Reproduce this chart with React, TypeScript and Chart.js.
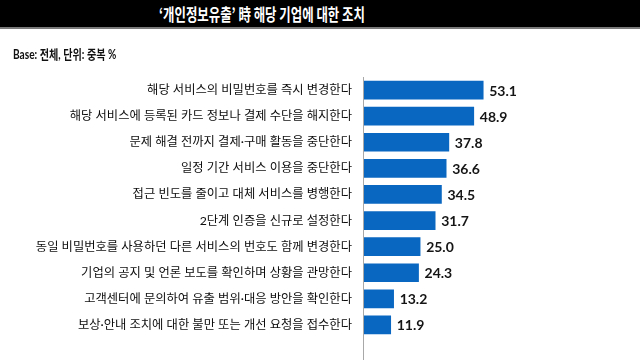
import React, { useEffect, useRef } from "react";
import { Chart, registerables } from "chart.js";

Chart.register(...registerables);

const TITLE = "‘개인정보유출’ 時 해당 기업에 대한 조치";
const BASE_NOTE = "Base: 전체, 단위: 중복 %";

const categories: string[] = [
  "해당 서비스의 비밀번호를 즉시 변경한다",
  "해당 서비스에 등록된 카드 정보나 결제 수단을 해지한다",
  "문제 해결 전까지 결제·구매 활동을 중단한다",
  "일정 기간 서비스 이용을 중단한다",
  "접근 빈도를 줄이고 대체 서비스를 병행한다",
  "2단계 인증을 신규로 설정한다",
  "동일 비밀번호를 사용하던 다른 서비스의 번호도 함께 변경한다",
  "기업의 공지 및 언론 보도를 확인하며 상황을 관망한다",
  "고객센터에 문의하여 유출 범위·대응 방안을 확인한다",
  "보상·안내 조치에 대한 불만 또는 개선 요청을 접수한다",
];

const values: number[] = [53.1, 48.9, 37.8, 36.6, 34.5, 31.7, 25.0, 24.3, 13.2, 11.9];

const BAR_COLOR = "#0a67c1";

const overlayPlugin = {
  id: "overlay",
  afterDraw(chart: any) {
    const ctx = chart.ctx;
    const { chartArea } = chart;
    ctx.save();
    ctx.strokeStyle = "#a8a8a8";
    ctx.lineWidth = 1;
    ctx.beginPath();
    const x = Math.round(chartArea.left) - 0.5;
    ctx.moveTo(x, chartArea.top);
    ctx.lineTo(x, chart.height);
    ctx.stroke();

    const meta = chart.getDatasetMeta(0);
    ctx.fillStyle = "#151515";
    ctx.font = "bold 14px Lato";
    ctx.textAlign = "left";
    ctx.textBaseline = "middle";
    meta.data.forEach((bar: any, i: number) => {
      const v = chart.data.datasets[0].data[i] as number;
      ctx.fillText(v.toFixed(1), bar.x + 6, bar.y + 1);
    });
    ctx.restore();
  },
};

export default function App() {
  const ref = useRef<HTMLCanvasElement | null>(null);

  useEffect(() => {
    document.body.style.margin = "0";
    if (!ref.current) return;
    const chart = new Chart(ref.current, {
      type: "bar",
      data: {
        labels: categories,
        datasets: [
          {
            data: values,
            backgroundColor: BAR_COLOR,
            barThickness: 18,
          },
        ],
      },
      options: {
        indexAxis: "y",
        animation: false,
        responsive: false,
        devicePixelRatio: 1,
        layout: { padding: { top: 77, bottom: 22, left: 0, right: 51.5 } },
        plugins: {
          legend: { display: false },
          tooltip: { enabled: false },
        },
        scales: {
          x: { min: 0, max: 100, display: false },
          y: {
            grid: { display: false, drawTicks: false },
            border: { display: false },
            ticks: {
              padding: 12,
              color: "#0d0d0d",
              font: { family: 'Lato, "Noto Sans CJK KR"', size: 12.3 },
            },
            afterFit: (s: any) => {
              s.width = 364;
            },
          },
        },
      },
      plugins: [overlayPlugin],
    } as any);
    return () => chart.destroy();
  }, []);

  return (
    <div style={{ position: "fixed", left: 0, top: 0, width: 640, height: 360, background: "#fff", overflow: "hidden" }}>
      <canvas ref={ref} width={640} height={360} style={{ position: "absolute", left: 0, top: 0 }} />
      <div
        style={{
          position: "absolute",
          left: 0,
          top: 0,
          width: 640,
          height: 27,
          background: "#000",
          borderBottom: "2px solid #7a7a7a",
        }}
      />
      <div
        style={{
          position: "absolute",
          left: 262,
          top: 14,
          transform: "translate(-50%, -50%) scaleX(0.73)",
          whiteSpace: "nowrap",
          color: "#fff",
          fontFamily: '"Noto Sans CJK KR"',
          fontWeight: 700,
          fontSize: 17,
          lineHeight: "20px",
        }}
      >
        {TITLE}
      </div>
      <div
        style={{
          position: "absolute",
          left: 13,
          top: 54,
          transform: "translateY(-50%) scaleX(0.78)",
          transformOrigin: "left center",
          whiteSpace: "nowrap",
          color: "#111",
          fontFamily: 'Lato, "Noto Sans CJK KR"',
          fontWeight: 700,
          fontSize: 13,
          lineHeight: "16px",
        }}
      >
        {BASE_NOTE}
      </div>
    </div>
  );
}
